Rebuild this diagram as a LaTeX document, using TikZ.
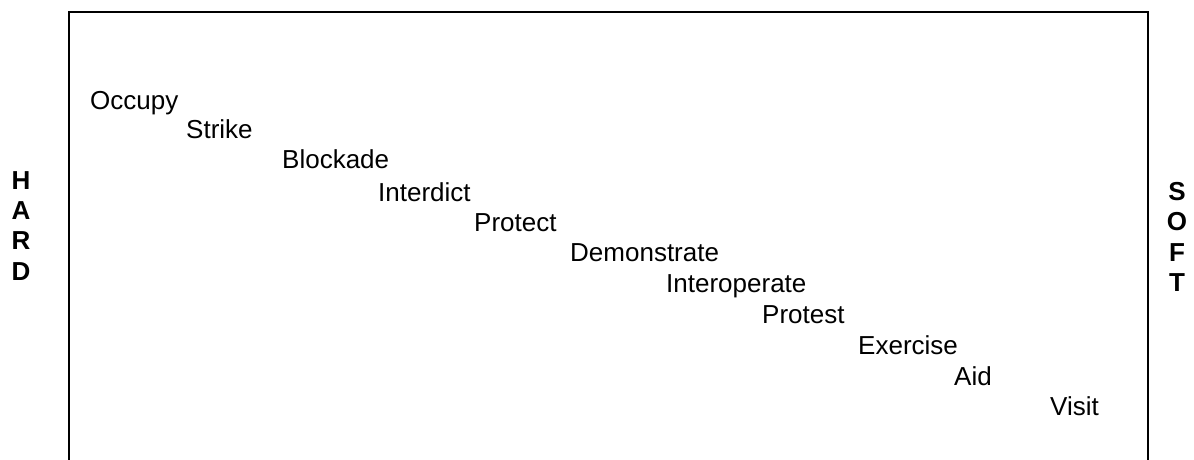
\documentclass[tikz,border=0pt]{standalone}
\usepackage{fontspec}
\setmainfont{Liberation Sans}
\begin{document}
\begin{tikzpicture}[x=1pt,y=-1pt,
  term/.style={anchor=base west, inner sep=0pt, font=\fontsize{26}{30.5}\selectfont},
  pole/.style={anchor=base, inner sep=0pt, align=center, font=\fontsize{26}{30.3}\selectfont\bfseries},
  frame/.style={line width=2pt, black}]
  \useasboundingbox (0,0) rectangle (1194,460);
  % open-bottomed frame
  \draw[frame] (68.5,461) -- (68.5,12) -- (1147.5,12) -- (1147.5,461);
  % scale ends (placed by the baseline of their last letter)
  \node[pole] (hard) at (21,280) {H\\A\\R\\D};
  \node[pole] (soft) at (1177,291.5) {S\\O\\F\\T};
  % actions, from hard to soft: name/baseline
  \foreach \name/\yb [count=\i from 0] in {Occupy/110,Strike/138.5,Blockade/168,Interdict/201,Protect/231.5,Demonstrate/261.7,Interoperate/292,Protest/323,Exercise/354,Aid/385,Visit/415}
    \node[term] (t\i) at ({90+96*\i},\yb) {\name};
\end{tikzpicture}
\end{document}
